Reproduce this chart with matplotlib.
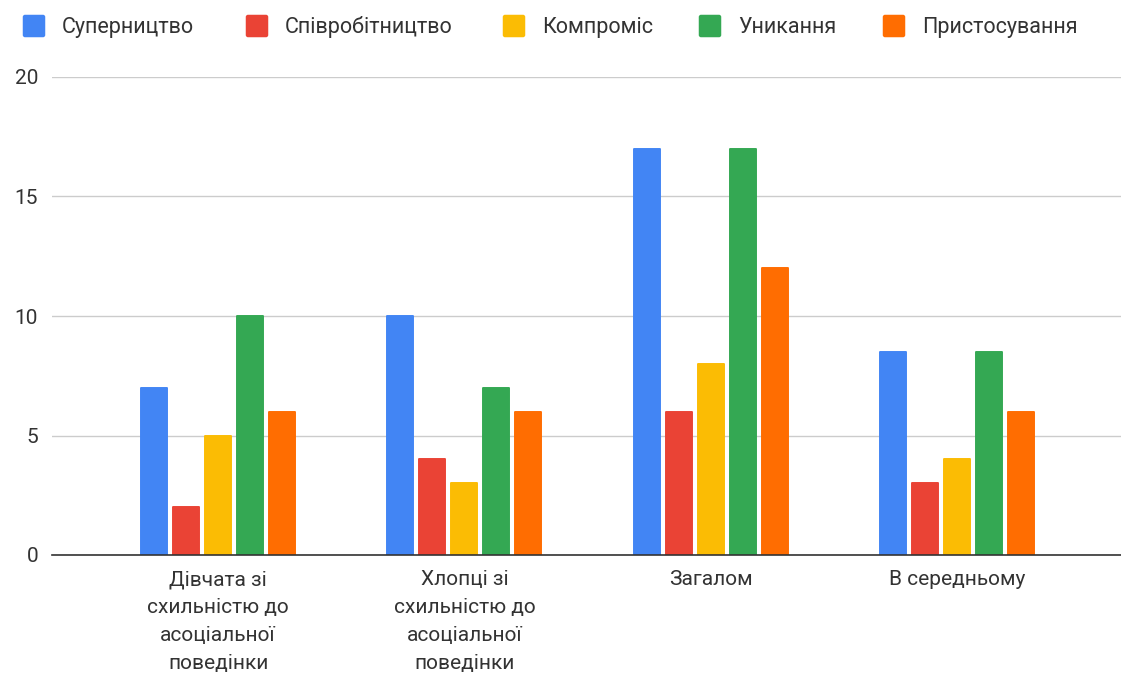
import matplotlib.pyplot as plt
import numpy as np
from matplotlib.patches import FancyBboxPatch

plt.rcParams['font.family'] = ['Roboto', 'DejaVu Sans']

categories = ['Дівчата зі\nсхильністю до\nасоціальної\nповедінки',
              'Хлопці зі\nсхильністю до\nасоціальної\nповедінки',
              'Загалом',
              'В середньому']
series_names = ['Суперництво', 'Співробітництво', 'Компроміс', 'Уникання', 'Пристосування']
suparnytstvo = [7, 10, 17, 8.5]
spivrobitnytstvo = [2, 4, 6, 3]
kompromis = [5, 3, 8, 4]
unykannia = [10, 7, 17, 8.5]
prystosuvannia = [6, 6, 12, 6]
y_ticks = [0, 5, 10, 15, 20]

series = [suparnytstvo, spivrobitnytstvo, kompromis, unykannia, prystosuvannia]
colors = ['#4285F4', '#EA4335', '#FBBC04', '#34A853', '#FF6D01']

W, H = 1121, 677
fig = plt.figure(figsize=(W / 100, H / 100), dpi=100)
ax = fig.add_axes([52 / W, 122 / H, 1 - 52 / W, (555 - 77) / H])

x = np.arange(len(categories))
pitch = 0.13
width = 0.106
for i, (vals, col) in enumerate(zip(series, colors)):
    # thin edge in the same colour with round joins gives the soft corners
    ax.bar(x + (i - 2) * pitch, vals, width, color=col, edgecolor=col,
           linewidth=1.4, joinstyle='round', zorder=3)

ax.set_xlim(-0.675, 3.667)
ax.set_ylim(0, 20)
ax.set_yticks(y_ticks)
ax.set_xticks(x)
ax.set_xticklabels(categories, linespacing=1.6)
ax.grid(axis='y', color='#cccccc', linewidth=1, zorder=0)
for s in ['top', 'right', 'left']:
    ax.spines[s].set_visible(False)
ax.spines['bottom'].set_color('#333333')
ax.spines['bottom'].set_linewidth(1.2)
ax.spines['bottom'].set_zorder(4)
ax.tick_params(axis='both', length=0, labelsize=15, colors='#333333')
ax.tick_params(axis='y', pad=10)
ax.tick_params(axis='x', pad=11)

# legend drawn by hand so the entries sit where they do in the original
legend_x = [23, 246, 503, 699, 883]
sq = 22
for lx, name, col in zip(legend_x, series_names, colors):
    fig.patches.append(FancyBboxPatch(((lx + 2) / W, (H - 26 - sq / 2 + 2) / H),
                                      (sq - 4) / W, (sq - 4) / H,
                                      boxstyle='round,pad=0.002,rounding_size=0.002',
                                      transform=fig.transFigure, facecolor=col,
                                      edgecolor='none', mutation_aspect=W / H))
    fig.text((lx + 39) / W, (H - 33) / H, name, fontsize=15.5, color='#333333',
             ha='left', va='baseline')

fig.savefig('out.png', dpi=100)
